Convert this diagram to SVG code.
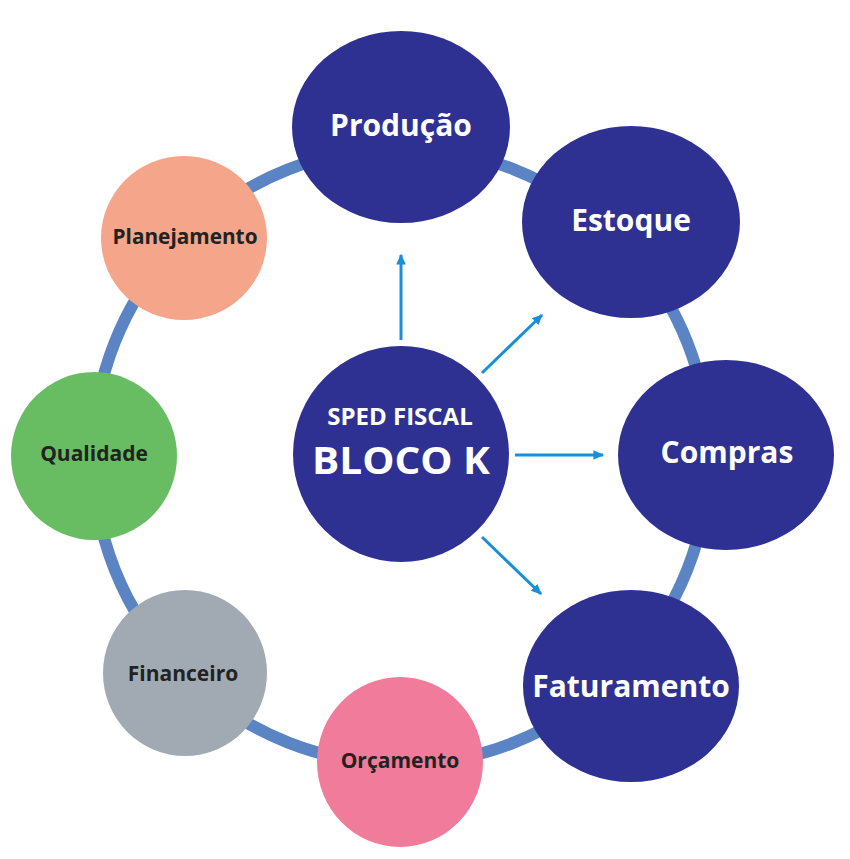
<svg xmlns="http://www.w3.org/2000/svg" width="850" height="859" viewBox="0 0 850 859">
  <style>
    .big { fill: #2e3192; }
    .lblW { font-family: "Open Sans", "Liberation Sans", sans-serif; font-weight: bold; fill: #ffffff; text-anchor: middle; font-size: 30px; }
    .lblD { font-family: "Open Sans", "Liberation Sans", sans-serif; font-weight: bold; fill: #222222; text-anchor: middle; font-size: 21px; }
    .arrow { stroke: #1a8fd8; stroke-width: 3; fill: none; marker-end: url(#ah); }
  </style>
  <defs>
    <marker id="ah" viewBox="0 0 10 10" refX="8" refY="5" markerWidth="4" markerHeight="4" orient="auto" markerUnits="strokeWidth">
      <path d="M0,1 L9,5 L0,9 z" fill="#1a8fd8"/>
    </marker>
  </defs>
  <rect width="850" height="859" fill="#ffffff"/>
  <g id="ring">
    <circle cx="401" cy="456" r="308" fill="none" stroke="#5b84c4" stroke-width="12"/>
  </g>
  <g id="connectors">
    <line class="arrow" x1="401" y1="340" x2="401" y2="255"/>
    <line class="arrow" x1="482" y1="373" x2="542" y2="315"/>
    <line class="arrow" x1="515" y1="455" x2="603" y2="455"/>
    <line class="arrow" x1="482" y1="537" x2="541" y2="594"/>
  </g>
  <g id="producao">
    <ellipse class="big" cx="401" cy="127" rx="109" ry="96"/>
    <text class="lblW" x="401" y="136">Produção</text>
  </g>
  <g id="estoque">
    <ellipse class="big" cx="631" cy="222" rx="109" ry="96"/>
    <text class="lblW" x="631" y="231">Estoque</text>
  </g>
  <g id="compras">
    <ellipse class="big" cx="726" cy="455" rx="108" ry="95"/>
    <text class="lblW" x="727" y="463">Compras</text>
  </g>
  <g id="faturamento">
    <ellipse class="big" cx="631" cy="686" rx="108" ry="96"/>
    <text class="lblW" x="631" y="697">Faturamento</text>
  </g>
  <g id="orcamento">
    <ellipse cx="400" cy="762" rx="83" ry="85" fill="#f07b9a"/>
    <text class="lblD" x="400" y="768">Orçamento</text>
  </g>
  <g id="financeiro">
    <ellipse cx="185" cy="673" rx="82" ry="83" fill="#a1aab3"/>
    <text class="lblD" x="183" y="681">Financeiro</text>
  </g>
  <g id="qualidade">
    <ellipse cx="94" cy="456" rx="83" ry="84" fill="#68bd63"/>
    <text class="lblD" x="94" y="461">Qualidade</text>
  </g>
  <g id="planejamento">
    <ellipse cx="184" cy="238" rx="83" ry="82" fill="#f4a58a"/>
    <text class="lblD" x="185" y="244" textLength="145" lengthAdjust="spacingAndGlyphs">Planejamento</text>
  </g>
  <g id="center">
    <circle class="big" cx="401" cy="454" r="108"/>
    <text class="lblW" x="400" y="425" style="font-size:24px">SPED FISCAL</text>
    <text class="lblW" x="401" y="474" style="font-size:38px" textLength="178" lengthAdjust="spacingAndGlyphs">BLOCO K</text>
  </g>
</svg>
